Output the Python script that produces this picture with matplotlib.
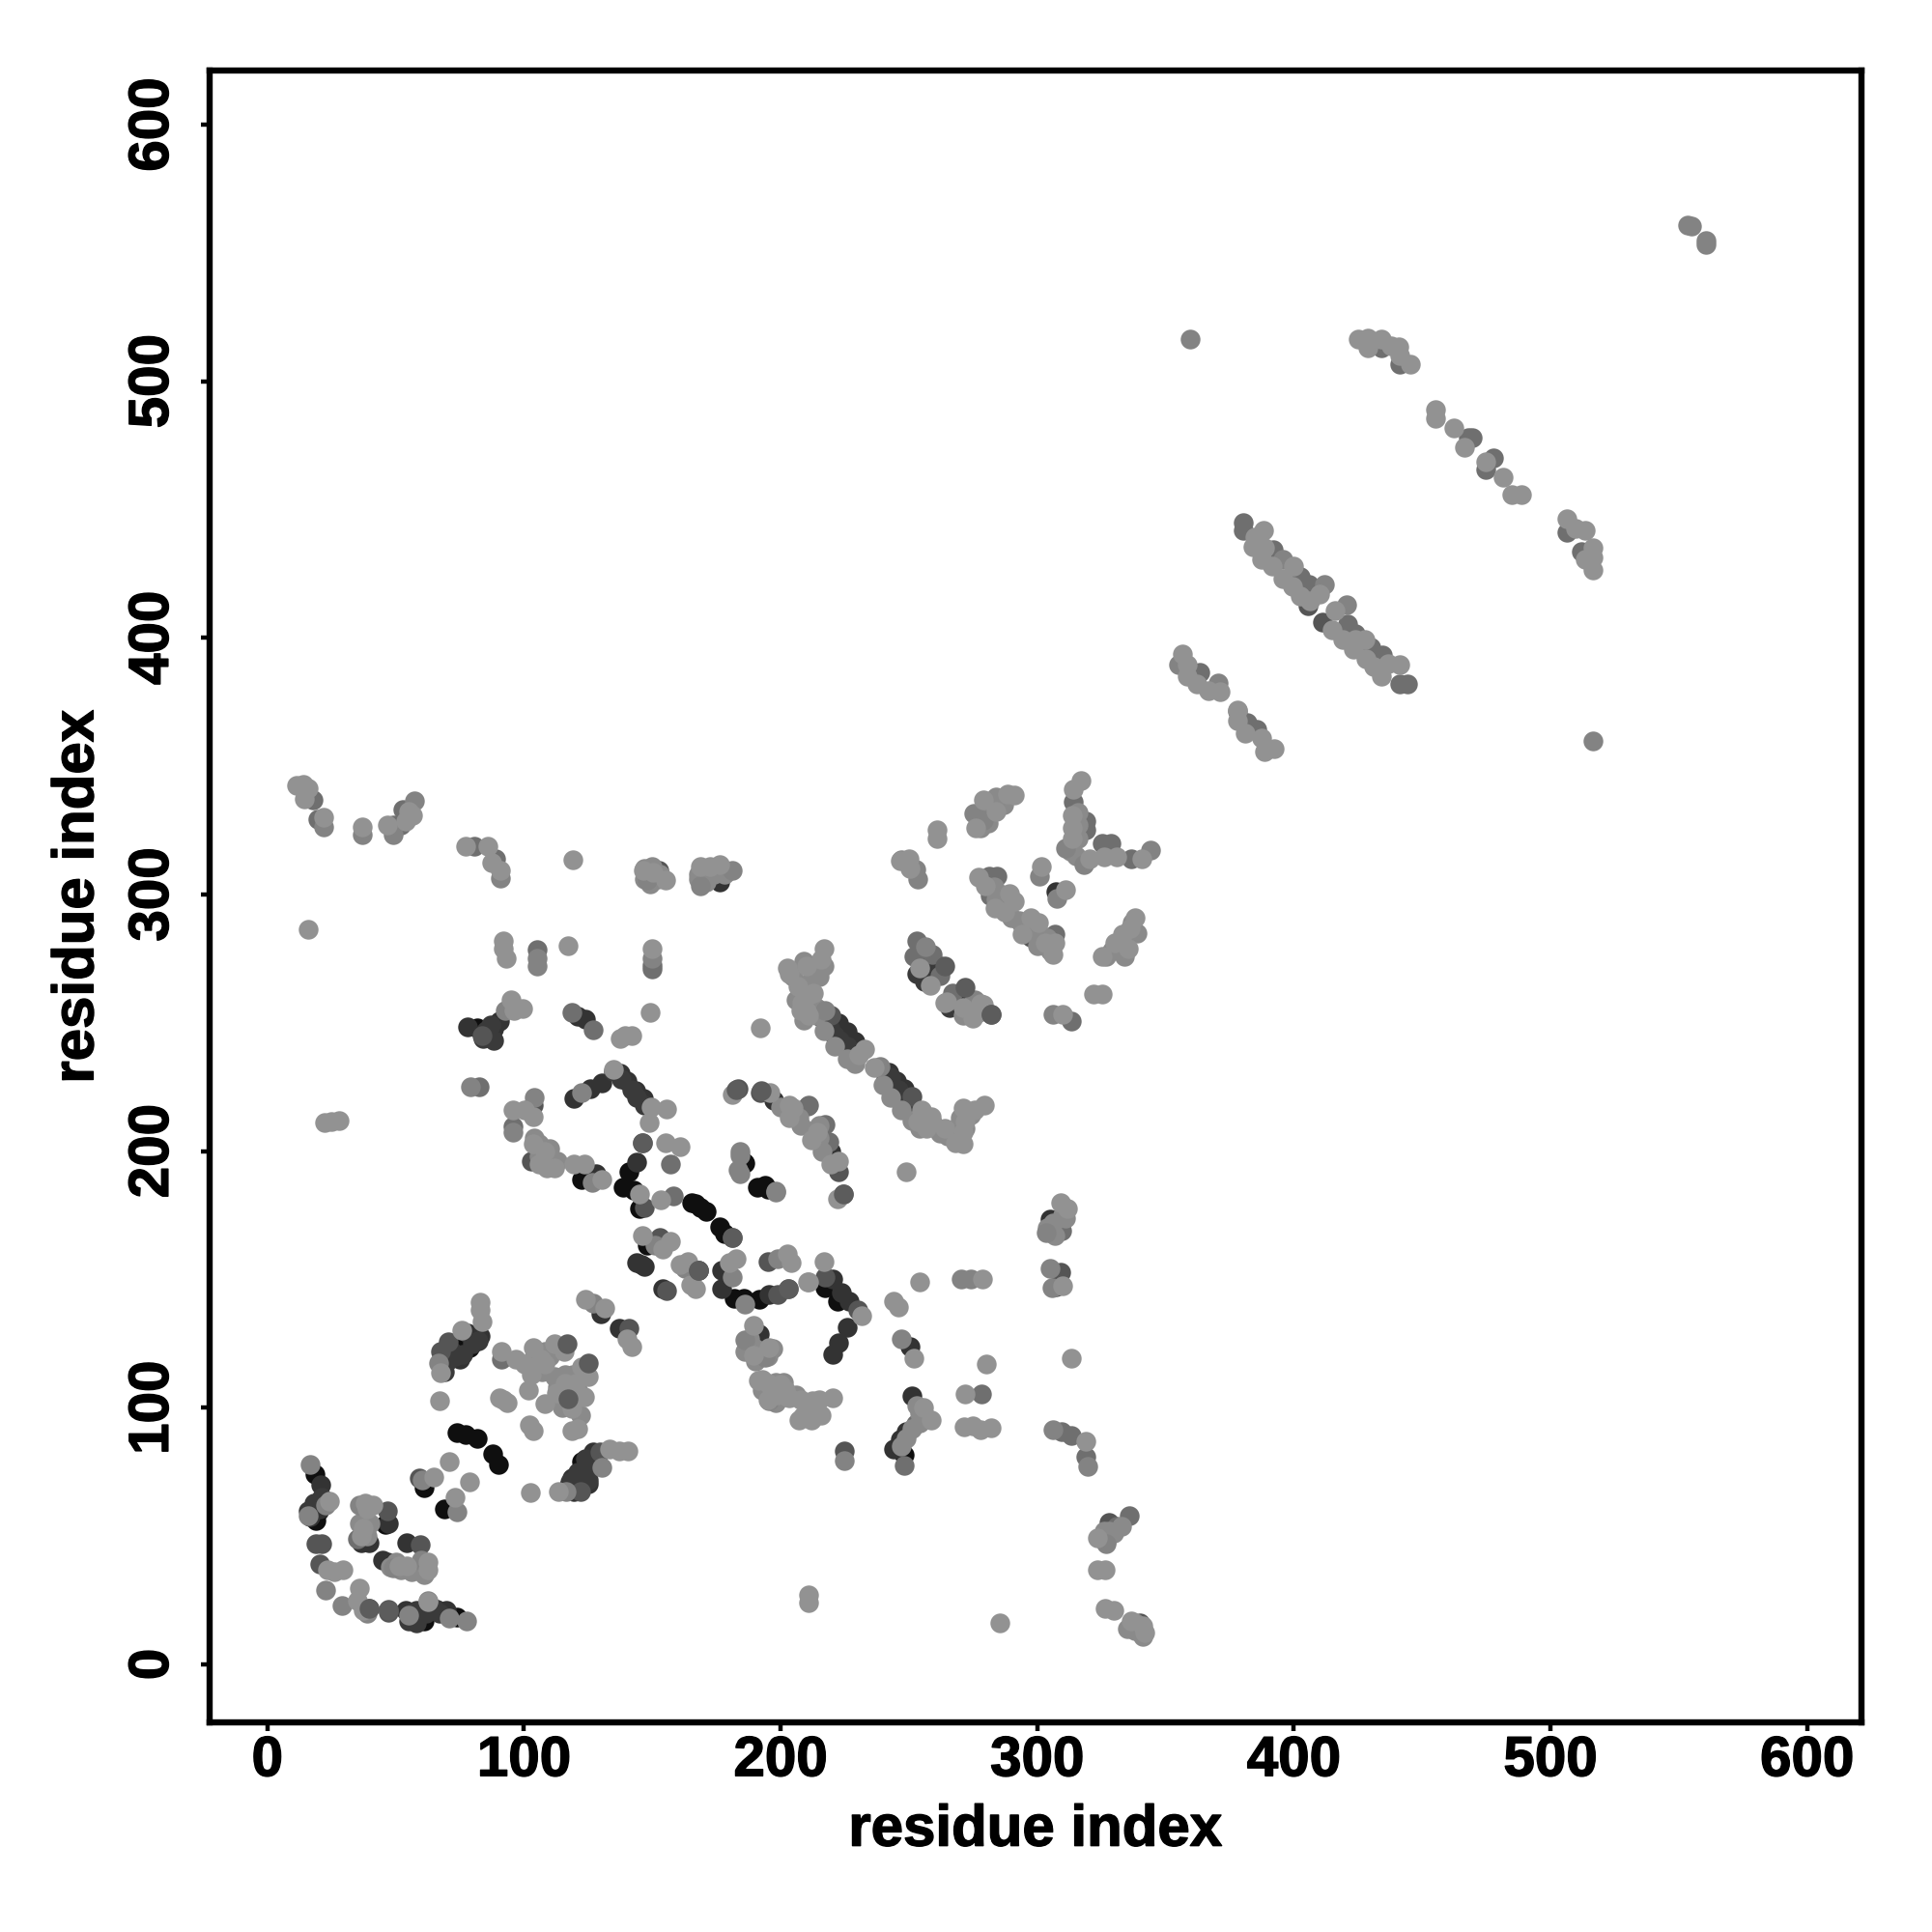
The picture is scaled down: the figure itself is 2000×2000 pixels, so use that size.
import matplotlib
matplotlib.use("Agg")
import matplotlib.pyplot as plt
import matplotlib.patheffects as pe

tick_values = [0, 100, 200, 300, 400, 500, 600]
x_label = "residue index"
y_label = "residue index"

black = [(18.7,74.3),(18.2,59),(19,56),(20,60),(61.2,69),(69,60.5),(74,90.5),(77.3,89.7),(81.6,88.2),(87.8,82),(90,78),
 (57,18),(59,19),(61,17),(74,18.6),(117.6,69.7),(122.6,73.6),(122.6,79),(68,119),(71,119.7),(75,124.6),(78.9,123.5),
 (166.7,179.6),(168.6,178),(171,176.5),(165.5,180),(176.4,170.4),(178,168),(181.8,142.7),(185.6,142.7),(191.8,142.2),(187,123.5),
 (122.6,189),(141,192),(142.6,185),(138.5,186),(145,177.5),(185.6,195.8),(185.9,195.2),(191,186),(194,186.6),(195,185.2),
 (81.6,248),(217.3,250.5),(220.4,246.7),(224.2,242.9),(242.7,226),(246.5,221.3),(250.4,216.7),(248.1,81.6),(217.4,146.9),(222,141.5),
 (257.8,268.3),(268,258.3),(46,54.4),(148,163.5)]
dark = [(20.8,70),(20.5,60.5),(16.7,57.5),(54,21),(56,18),(65.8,21.4),(69.7,21),(39.7,21.8),(47.3,55),(39.7,47.5),(36.6,47.5),(54.3,47.5),
 (46.6,39.8),(45,40.5),(75,119),(78,129),(83,128),(118.8,72.8),(125.7,77.4),(127,82.8),(124.9,70.5),(119.5,67.4),(130,136.6),(137,131),
 (145.6,155.8),(147,155),(144,156.5),(154,146.5),(168,153.4),(177,153.4),(177,146.5),(195.6,144),(191.8,128.9),(78,248.4),(88,247.5),(85.5,246),(90.4,250.6),
 (121,252.4),(124,251.6),(119.6,220.4),(125.7,224.3),(130.3,226.6),(137.3,230.4),(140.3,227.3),(143.4,223.5),(146.5,220.4),(128,191.3),
 (144,195.8),(225.8,246.7),(222.7,249.8),(229,242.9),(242,230.7),(245,227.5),(248,224.4),(197.4,219.8),(219.7,199.8),(220.4,150),(223.5,145),(226.6,141.5),
 (225.8,131.5),(222.7,125.3),(220.4,120.7),(246.5,87.7),(244.2,83.9),(250.4,123.8),(305,173.7),(308.7,173.7),(176.4,305),(251.2,104.6),(248.8,90.8),(307.3,301)]
extra_dark = [(85,247),(87,249),(84,244),(88,243),(219,248),(221,245),(223,243),(226,241),(228,239),(216,252),(244,224),(246,224),(248,220),(250,218),(241,228),(243,229),
 (138,228),(142,224),(144,221),(147,218),(135,231),(70,118),(72,122),(73,120),(76,121),(80,125),(82,126),(69,114),(118,71),(120,68),(122,70),(125,72),(127,78),(124,80),(121,75),(128,80),
 (56,20),(58,21),(60,20),(55,17),(58,16),(62,20),(65,22),(67,20),(255,276),(257,273),(260,272),(256,266),(253,269),(262,272),(270,260),(273,257),(266,256),(18,63),(21,65),(16,60)]
g2 = [(19,47),(21,47),(20.5,39),(47,21.4),(47,20.5),(46.6,59.8),(59.7,46.7),(59,72.8),(70.4,125.8),(67.3,122),(122,67.4),(129.6,82.8),(140.8,131),
 (153,166.5),(155.7,145.8),(181,166.5),(203,146.5),(198.7,144.2),(195,157),(83.5,245),(103.5,218),(102.7,196),(147,178),(146,203.4),(183.3,224.3),
 (192,223),(219.7,252.8),(251,221.3),(222.7,192),(224.3,183.3),(152.6,309.5),(169.5,308.7),(224.7,83),(217.3,151),(230,138),(297.3,283.4),(285.3,298.4),
 (307.3,147),(309.2,153),(328,55.5),(340,16),(411,406),(405.5,412.6)]
g3 = [(17.7,337),(19.7,329.3),(48.9,327),(52,327),(52.8,333.3),(80.7,319),(88.9,314),(105,278.5),(150,271),(118.8,254),(126.8,247.3),(82.7,225),(95.8,209.7),
 (211,218),(210.4,217.5),(217.4,210.6),(218.9,203.7),(252,275.9),(253,282),(259,276.5),(262,268.3),(267,261.5),(281.6,299.7),(319,325.4),(319,328.5),(314,336.2),
 (325.5,319.8),(328.6,319.8),(336.8,314),(281.2,307.2),(284.4,307.2),(294,288.4),(306.7,284.7),(313.2,250.8),(278.4,105.4),(252.7,93.9),(248.1,77.7),
 (309.5,169),(309.5,90.8),(313.4,89.2),(318.8,80.8),(327,47.8),(331,54),(335.7,57.8),(157,195),(158,182.6),(91,119),(35,49),(267.3,207.5),(380.4,445),(380.4,442),
 (392,434.5),(402.5,423.8),(406,420.8),(421,405.5),(424,401.8),(430,396.4),(434.5,393.2),(441.2,382),(444.2,382),(363.4,386.4),(378,371.5),(381.7,367),(385.4,364.5),
 (441.2,506.6),(434,513),(468,478),(469.5,478),(477.7,470),(474.7,465.6),(506.4,441.3),(512,433.8),(150,272.5)]
g4 = [(16.7,78),(16,58),(22.8,62),(22.8,29),(29,23),(39,19.8),(55,19),(62.7,25),(71,18),(77.6,17),(36,62),(48.9,37.5),(60,40.5),(60.4,72),(73.8,59.3),(66.6,117.4),
 (127,140.7),(105,117),(116.5,67.4),(130.3,76.6),(151,163.4),(162.6,154.5),(181,151),(186,140.4),(186,126.6),(198.7,158),(194,119.7),(195.6,102.8),(211,95.8),(184,200),(183.4,192.8),(198,184.6),
 (22,326.4),(37,323.3),(48.9,323.3),(57.4,336.4),(90.8,306.4),(148,305.7),(168.8,303.4),(181,309.5),(105,275),(105,272.3),(149.8,275),(92.7,255),(79,225),(103.8,221),(95.8,207.4),
 (122.6,222.8),(126.5,188),(198,184),(184,198.3),(184.3,191.4),(217.3,255),(238.9,233),(275.7,259),(256.5,279.6),(275.3,258.3),(247,313.5),(252.7,309.7),(253.3,306),
 (279,329),(275.3,331.7),(301,307.2),(307.8,298.4),(311,317.9),(318,311.6),(344.3,317.5),(270.3,150),(274,150),(305,154.5),(305.7,146.9),(303.4,168.4),(247,126.9),(225,79.3),
 (306,91.5),(319.5,77),(327,47),(306,253.3),(355,389.5),(370.5,382.6),(412,421),(420.4,413),(395.9,430.6),(553.5,561),(560.6,555),(555,560.6),(560.6,553.5),(359.4,516.6),(516.5,360)]
g5 = [(24.3,63.6),(23.6,36.7),(26,36),(29.4,36.7),(35.9,29.8),(35,25),(37.4,21),(62.7,24.4),(38,62.8),(41,62),(39,60.5),(37.4,53),(36.6,50),(51.3,38.2),(54.3,38.2),(62.7,39.8),(62.7,36.7),
 (65,73),(71,79),(78.9,71.3),(73,65),(67,102.8),(67.3,113.5),(75.8,130.4),(83.5,133.5),(83,141),(83,138),(91,122),(92,103),(93.5,102),(90.4,103.8),(102,93.5),(103.5,91),(97,119),(100.4,117),
 (103.5,123.5),(108,117),(101.6,107),(102.7,112.8),(106.6,119),(112,125),(115.7,122),(122.6,115.8),(125,112),(116,109.7),(112.7,105.8),(123.4,104.3),(108,101.7),(118.8,99.7),(121,92),(118.8,91),(120,109.7),
 (102.5,67),(113.5,67.4),(133.4,83.9),(140.6,83),(137,83.3),(123.8,142.2),(131.4,138.9),(142,124),(140,127),(146,167),(157,165),(154,162),(164,157),(167,146.5),(165,148),(161,155.8),
 (182.6,158),(180,156.5),(202.7,160),(204,156.5),(211,149),(189.6,132),(195.6,123.5),(189.6,120.4),(193,111),(195,109.7),(200,109),(198.7,105),(202.5,104.3),(208.7,96.6),(214.8,97.4),(212.5,102.8),
 (11.3,342.5),(14,343),(16,341.5),(14.3,337.4),(22,330),(37,326.4),(46.6,327),(56.6,331),(54,328.7),(55,332.5),(77.3,319),(85.8,319),(87.3,312.6),(90.8,309.5),(119,313.4),
 (146.5,309.5),(155,305.7),(150.3,308.7),(168.8,311),(176.4,311.8),(172.6,311),(15.9,286.3),(92,281.9),(92,279),(93,275.3),(117,280),(150,278.8),(95,258.8),(99.6,255.7),(96,255),
 (137.3,244),(139.5,245),(141.9,245),(149,254.2),(192,248.2),(95.8,216),(103.5,213.5),(100.4,216),(22.3,211),(25,211.4),(27.8,212),(103.5,202.8),(108,199.7),(105.7,195),(112,193.5),(108.8,193.5),
 (119.6,195),(123.4,195),(130.3,189),(134.9,232),(149.5,217.3),(155.7,216.6),(148.8,211),(145,183.4),(153.4,181),(155,203.4),(161,201.8),(181,222),(196,222.9),(203.5,218),(205,216.7),(203.5,212.9),
 (212,204.5),(214.3,207.5),(222.7,196),(219.7,195),(222,181.4),(248.8,192),(232.7,239.8),(230.4,237.5),(211,261),(208,255),(211,252.8),(203.5,269),(206.6,264.3),(236.4,232.8),
 (255,216),(253.4,211.4),(258.8,213.6),(257,209),(264,209),(271,203),(268,203.4),(271,207.5),(271.8,211.4),(271,216.7),(275.7,216),(279.5,218),(217,279),(215.7,274.6),(210,272),(202.6,271.5),(212.6,261.5),(208.2,258),(210,254.5),
 (254.1,271.5),(258.4,264.6),(264.7,258.3),(271,255.8),(279,257),(274.7,252),(278,257.4),(264,258),(261,325.4),(261,322),(250,314),(246.5,313),(250.3,310),(291,338.6),(288.6,339.2),(279,336.8),(284,332.3),(276,326),
 (317,344.3),(314.2,341),(313.5,331),(313.5,326),(313.5,321.7),(301.6,311),(311,302),(320.5,314),(326,314.7),(331,314.7),(340.6,314),(277.2,306.6),(279.7,303.5),(283.5,294.7),(289,300.3),(290.9,297.2),(287.2,293.4),
 (297.3,290.9),(300.3,289),(294,284.7),(306.7,281),(306,276.5),(303,281),(338,291),(336.2,287),(333.4,284.7),(330.3,281),(325.5,276),(335.5,279),(321.8,261.4),(325.5,261.4),(310,253.3),
 (254.2,149.2),(278.8,150),(309,179.9),(311.8,177.6),(310,147.6),(244,141.5),(245.8,139.3),(252,119.2),(280,117.2),(313.3,119.2),(271.9,105.4),(275,93),(278,91.5),(281.9,92.3),(271.5,92.5),(255.8,100),(258.8,95.4),
 (318.8,87),(323.3,37),(326.4,37),(323.3,49.3),(326.4,22),(330,21),(336.5,17),(342,12.5),(341,15),(285.6,16.3),(211,27),(211,24),(216.8,157),(231.5,136),(210.4,149),(220.4,103.8),(215,103),(208,103),(207,95.4),(212,95.4),(215.8,97),
 (191.4,110.8),(202,107),(203.5,103.8),(195,103),(425,516.6),(429,516.8),(434,516.6),(429,513),(438,514),(441,513.6),(445.4,506.6),(441.2,510),(455.3,489),(455.3,485.6),(462.3,481.9),(466.5,474.4),(474.7,468.6),(481.4,462.8),(485,456),(488.8,456),
 (506.4,446.3),(513.4,442),(509.6,442.6),(516.4,435),(513.4,430.7),(516.4,431.3),(516.7,426.6),(388,442),(384.7,439.4),(384,435.7),(388.4,435),(387.6,430.6),(391.4,428),(399.8,428),(395.9,423),(399.5,420),(410,417),(402.5,416.5),(406.2,414.5),
 (416,410.7),(415,403),(418.9,399.5),(424,399.5),(427.8,399.5),(423.3,395.8),(428,392),(431,389),(436.8,390),(434,385),(441.2,389.5),(356.4,393.9),(358.6,389.5),(358.6,385),(362.4,382),(366.8,379.5),(371.3,378.9),
 (378,372),(378,367.7),(381,362.7),(387.6,360.8),(388.4,355.8),(392.4,357)]
extra_light = [(214,253),(217,247),(221,241),(226,236),(229,234),(240,226),(243,221),(247,216),(251,212),(254,209),
 (104,120),(108,122),(110,120),(112,112),(107,114),(118,106),(121,107),(119,103),(115,100),(122,97),(113,108),(116,113),(119,113),
 (108,197),(110,196),(106,198),(113,196),(104,205),(106,203),(110,201),(205,268),(208,262),(212,258),(210,265),(215,268),(217,272),(213,270),(209,274),(206,259),(209,251),(214,256),
 (259,211),(262,207),(265,206),(268,209),(272,209),(270,213),(274,214),(283,303),(286,300),(288,296),(284,298),(295,287),(298,286),(301,285),(304,283),(300,280),(305,278),(293,290),(290,291),
 (282,335),(285,335),(278,332),(281,328),(278,326),(284,338),(287,335),(316,327),(316,332),(313,317),(316,322),(315,315),(332,279),(335,284),(337,289),(329,278),(327,276),(339,285),(334,276),
 (271,253),(277,254),(147,306),(149,304),(152,306),(153,308),(147,310),(150,311),(168,306),(171,305),(174,308),(178,308),(168,308),(170,310),(36,55),(38,57),(40,55),(38,52),(39,50),
 (52,37),(50,40),(48,38),(56,36),(58,38),(60,38),(61,35),(186,122),(190,123),(193,121),(195,120),(188,127),(190,118),(197,123),(196,106),(198,110),(193,107),(201,110),(198,102),(206,105),
 (204,215),(207,213),(200,217),(208,210),(215,205),(213,208),(216,200),(215,210),(304,170),(306,172),(310,175),(307,167),(311,174),(254,98),(256,97),(253,101),(251,92),(249,88),(247,85),(254,94),
 (328,52),(330,51),(333,54),(326,52),(338,16),(340,14),(341,11),(335,14),(338,13)]
on_top = [(116.8,125),(125,117.4),(117.3,103.5),(168,153.4),(146,203.4),(282,253.3),(264,272),(272,264),(181,166.5),(203,146.5),(192.5,223.5),(182.8,224),(39.7,21.8),(47,21),(167.8,153.4),(281.9,253.3),(224.3,183.3)]

series = [(black, "#0f0f0f"), (dark, "#333333"), (extra_dark, "#3a3a3a"), (g2, "#555555"), (g3, "#6f6f6f"),
          (extra_light, "#8a8a8a"), (g4, "#838383"), (g5, "#929292"), (on_top, "#5c5c5c")]

plt.rcParams["font.family"] = ["Liberation Sans", "DejaVu Sans"]
plt.rcParams["font.weight"] = "bold"

fig = plt.figure(figsize=(10, 10), dpi=200)
ax = fig.add_axes([217/2000, 1-1783/2000, (1927-217)/2000, (1783-73)/2000])
for pts, col in series:
    ax.scatter([p[0] for p in pts], [p[1] for p in pts], s=54, c=col, linewidths=0, zorder=3)
ax.set_xlim(-22.5, 621.2)
ax.set_ylim(-22.6, 621.1)
ax.set_xticks(tick_values)
ax.set_yticks(tick_values)
ax.tick_params(axis="x", length=3.2, width=1.6, labelsize=21, pad=1.6)
ax.tick_params(axis="y", length=3.2, width=1.6, labelsize=21, pad=8)
stroke = [pe.withStroke(linewidth=0.5, foreground="black")]
for lab in ax.get_yticklabels():
    lab.set_rotation(90)
    lab.set_va("center")
    lab.set_path_effects(stroke)
for lab in ax.get_xticklabels():
    lab.set_path_effects(stroke)
for s in ax.spines.values():
    s.set_linewidth(2.3)
ax.set_xlabel(x_label, fontsize=21.6, fontweight="bold", path_effects=stroke)
ax.set_ylabel(y_label, fontsize=21.6, fontweight="bold", path_effects=stroke)
ax.xaxis.set_label_coords(0.5, -0.0495)
ax.yaxis.set_label_coords(-0.0635, 0.5)
fig.savefig("out.png", dpi=200)
